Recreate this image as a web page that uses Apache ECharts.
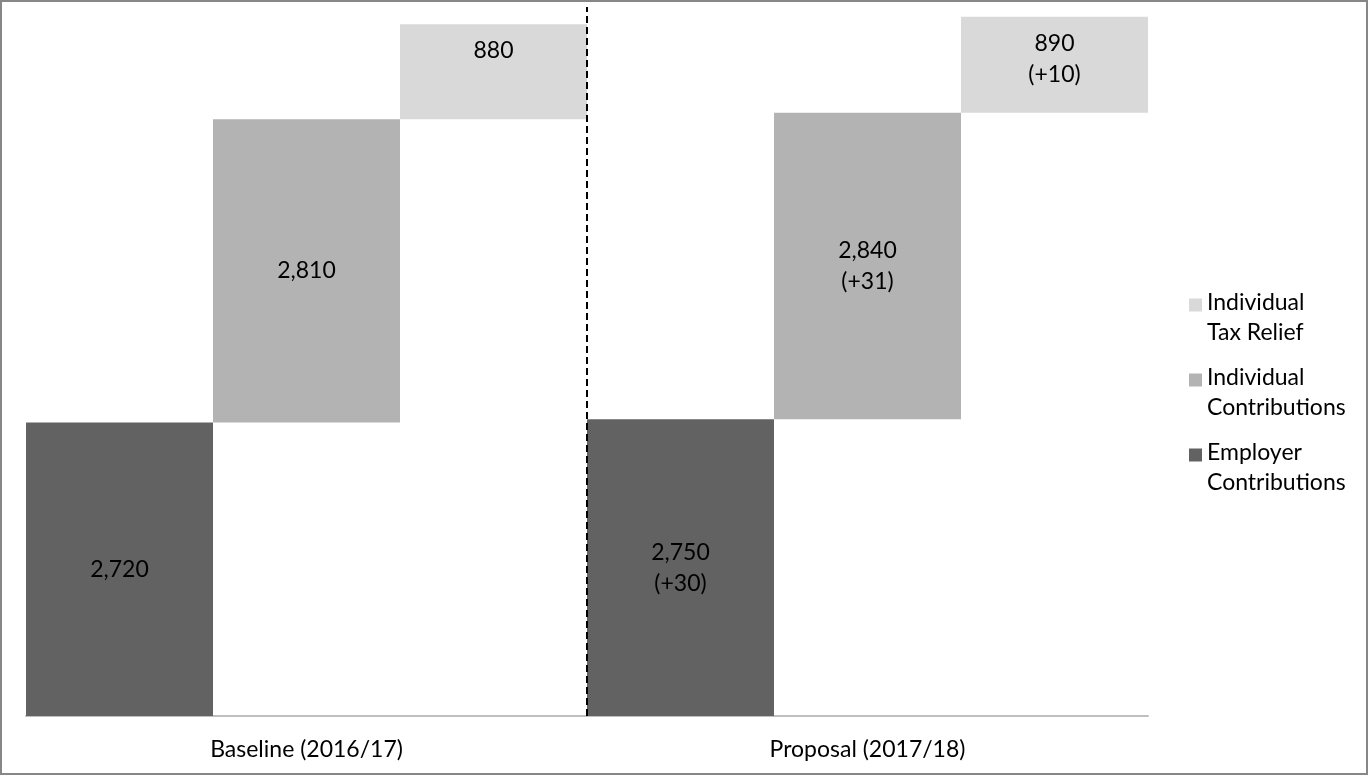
<!DOCTYPE html>
<html><head><meta charset="utf-8">
<script src="https://cdn.jsdelivr.net/npm/echarts@6/dist/echarts.min.js"></script>
<style>
html,body{margin:0;padding:0;background:#fff;}
#wrap{position:relative;width:1368px;height:775px;overflow:hidden;}
#chart{position:absolute;left:0;top:0;width:1368px;height:775px;}
#frame{position:absolute;left:0;top:0;width:1368px;height:775px;box-sizing:border-box;border:2px solid #878787;pointer-events:none;}
</style></head>
<body><div id="wrap"><div id="chart"></div><div id="frame"></div></div>
<script>
// ---- data ----
const groups = ['Baseline (2016/17)', 'Proposal (2017/18)'];
const seriesNames = ['Employer\nContributions', 'Individual\nContributions', 'Individual\nTax Relief'];
const employer = [2720, 2750];
const individualContrib = [2810, 2840];
const taxRelief = [880, 890];
const employerChange = [null, 30];
const individualChange = [null, 31];
const taxReliefChange = [null, 10];

// ---- build ----
const colors = ['#626262', '#b3b3b3', '#d9d9d9'];
const layers = [employer, individualContrib, taxRelief];
const changes = [employerChange, individualChange, taxReliefChange];
const slots = [];
groups.forEach((g, gi) => layers.forEach((l, k) => slots.push(gi + '-' + k)));
const base = slots.map((s, i) => {
  const g = Math.floor(i / 3), k = i % 3;
  let b = 0;
  for (let j = 0; j < k; j++) b += layers[j][g];
  return b;
});
const layerData = layers.map((arr, k) => slots.map((s, i) => (i % 3 === k) ? arr[Math.floor(i / 3)] : '-'));
const fmtNum = v => String(v).replace(/\B(?=(\d{3})+(?!\d))/g, ',');
const FONT = 'Lato';

const series = [{
  type: 'bar', name: '_base', stack: 'w', xAxisIndex: 0, yAxisIndex: 0,
  data: base, silent: true, itemStyle: { color: 'transparent' }, label: { show: false },
  barCategoryGap: '0%'
}];
layers.forEach((arr, k) => {
  series.push({
    type: 'bar', name: seriesNames[k], stack: 'w', xAxisIndex: 0, yAxisIndex: 0,
    data: layerData[k], barCategoryGap: '0%',
    itemStyle: { color: colors[k] },
    label: {
      show: true,
      position: k === 2 ? 'insideTop' : 'inside',
      distance: 11,
      fontFamily: FONT, fontSize: 23, lineHeight: 31, color: '#000',
      formatter: p => {
        const g = Math.floor(p.dataIndex / 3);
        const c = changes[k][g];
        return fmtNum(p.value) + (c == null ? '' : '\n(+' + c + ')');
      }
    }
  });
});
series.push({
  type: 'line', name: '_divider', xAxisIndex: 2, yAxisIndex: 0, data: [], silent: true,
  markLine: {
    silent: true, symbol: ['none', 'none'], label: { show: false },
    lineStyle: { color: '#000', type: [7, 4], width: 2 },
    data: [{ xAxis: 3 }]
  }
});

const chart = echarts.init(document.getElementById('chart'));
chart.setOption({
  animation: false,
  grid: { left: 26, right: 220, top: 7, bottom: 59 },
  legend: {
    data: [seriesNames[2], seriesNames[1], seriesNames[0]],
    orient: 'vertical', left: 1184, top: 283, itemGap: 15,
    itemWidth: 13, itemHeight: 39,
    icon: 'path://M0,0L13,0L13,13L0,13Z M0,39L0.01,39',
    selectedMode: false,
    textStyle: { fontFamily: FONT, fontSize: 23, lineHeight: 30, color: '#000' }
  },
  xAxis: [
    { type: 'category', data: slots, show: false, position: 'bottom' },
    {
      type: 'category', data: groups, position: 'bottom',
      axisLine: { show: true, lineStyle: { color: '#bfbfbf', width: 2 } },
      axisTick: { show: false }, splitLine: { show: false },
      axisLabel: { fontFamily: FONT, fontSize: 23, lineHeight: 28, color: '#000', margin: 20 }
    },
    { type: 'value', min: 0, max: 6, show: false, position: 'bottom' }
  ],
  yAxis: { type: 'value', min: 0, max: 6570, show: false },
  series: series
});
</script>
</body></html>
